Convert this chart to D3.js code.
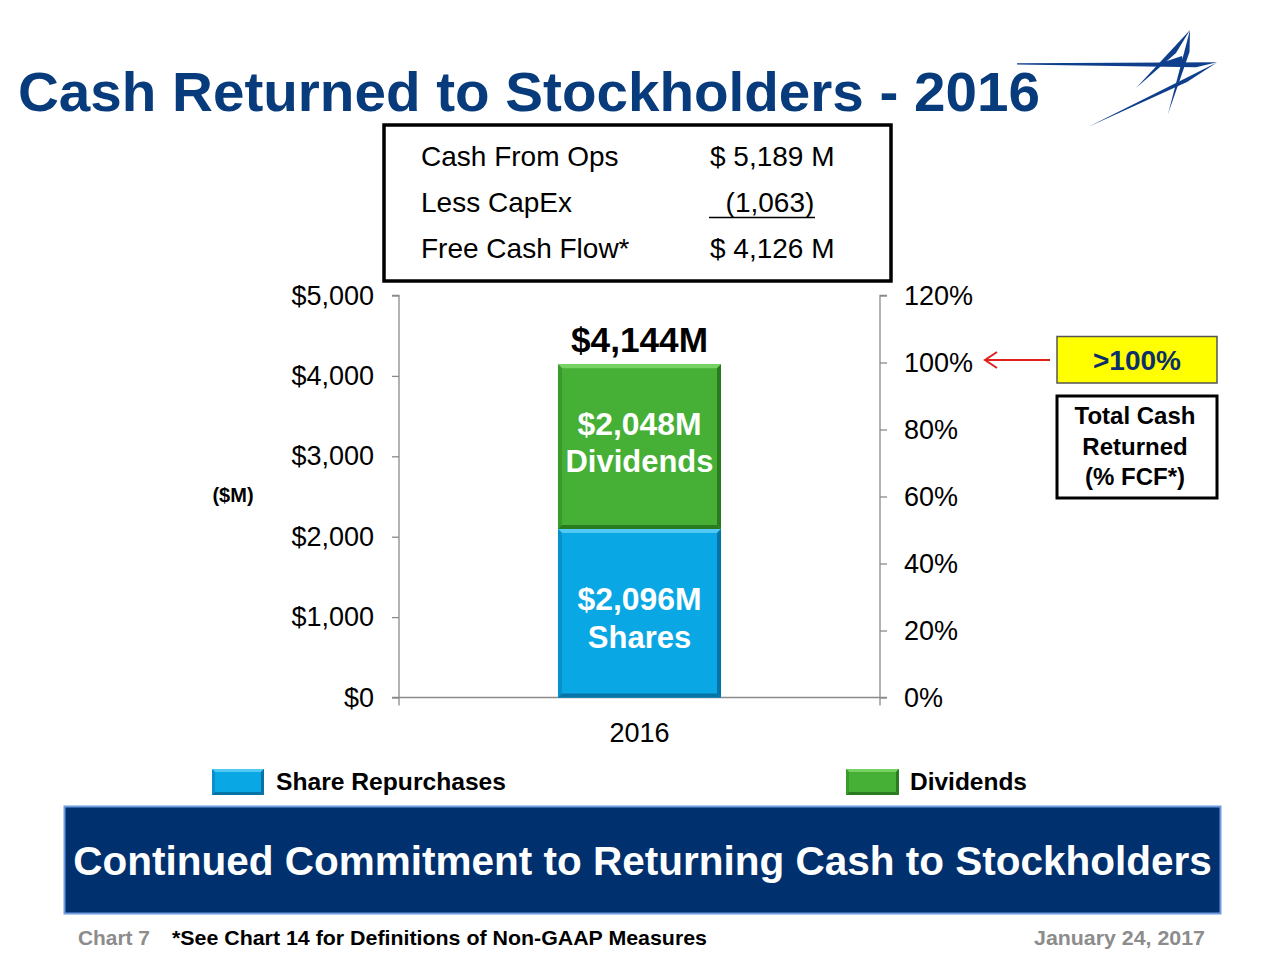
<!DOCTYPE html>
<html>
<head>
<meta charset="utf-8">
<script src="https://cdn.jsdelivr.net/npm/d3@7/dist/d3.min.js"></script>
<style>
  html, body { margin: 0; padding: 0; background: #fff; }
  svg { display: block; font-family: "Liberation Sans", Arial, Helvetica, sans-serif; }
</style>
</head>
<body>
<svg id="chart" width="1280" height="960"></svg>
<script>
// ---------------- DATA ----------------
const categories = ["2016"];
const shareRepurchases = [2096];
const dividends = [2048];
const seriesNames = ["Share Repurchases", "Dividends"];
const leftTicks = [0, 1000, 2000, 3000, 4000, 5000];
const rightTicks = [0, 20, 40, 60, 80, 100, 120];
const fcfLabels = ["Cash From Ops", "Less CapEx", "Free Cash Flow*"];
const fcfValues = ["$ 5,189 M", "  (1,063)", "$ 4,126 M"];
const totalLabel = "$4,144M";
const segLabels = [["$2,096M", "Shares"], ["$2,048M", "Dividends"]];
const pctCallout = ">100%";
const pctCalloutValue = 100;
const calloutLines = ["Total Cash", "Returned", "(% FCF*)"];

// ---------------- SETUP ----------------
const svg = d3.select("#chart");
const plot = { left: 399, right: 880, top: 295.5, bottom: 697.5 };

const x = d3.scaleBand().domain(categories).range([plot.left, plot.right])
  .paddingInner(0).paddingOuter(0.975);
const y = d3.scaleLinear().domain([0, 5000]).range([plot.bottom, plot.top]);
const yR = d3.scaleLinear().domain([0, 120]).range([plot.bottom, plot.top]);

const colors = {
  shares: { main: "#0aa7e5", light: "#52c9f4", dark: "#0673a6", side: "#0990c8" },
  divs:   { main: "#45b035", light: "#76d262", dark: "#2a7a1f", side: "#3b9a2d" }
};

function txt(g, s, opts) {
  const t = g.append("text").attr("x", opts.x).attr("y", opts.y).text(s)
    .attr("font-size", opts.size)
    .attr("font-weight", opts.bold ? "bold" : "normal")
    .attr("fill", opts.fill || "#000")
    .attr("text-anchor", opts.anchor || "start");
  if (opts.len) t.attr("textLength", opts.len).attr("lengthAdjust", "spacingAndGlyphs");
  return t;
}

function bevelRect(g, x0, y0, x1, y1, c, b) {
  g.append("rect").attr("x", x0).attr("y", y0).attr("width", x1 - x0).attr("height", y1 - y0).attr("fill", c.main);
  const P = pts => pts.map(p => p.join(",")).join(" ");
  g.append("polygon").attr("points", P([[x0,y0],[x1,y0],[x1-b,y0+b],[x0+b,y0+b]])).attr("fill", c.light);
  g.append("polygon").attr("points", P([[x0,y0],[x0+b,y0+b],[x0+b,y1-b],[x0,y1]])).attr("fill", c.side);
  g.append("polygon").attr("points", P([[x1,y0],[x1,y1],[x1-b,y1-b],[x1-b,y0+b]])).attr("fill", c.dark);
  g.append("polygon").attr("points", P([[x0,y1],[x1,y1],[x1-b,y1-b],[x0+b,y1-b]])).attr("fill", c.dark);
}

// ---------------- TITLE ----------------
txt(svg, "Cash Returned to Stockholders - 2016", { x: 18, y: 111, size: 56, bold: true, fill: "#073b7b", len: 1022 });

// Logo (stylized star)
const logo = svg.append("g").attr("fill", "#0f3f8c");
const poly = pts => logo.append("polygon").attr("points", pts.map(p => p.join(",")).join(" "));
poly([[1017,63.2],[1217,62.2],[1196,67.2],[1017,64.6]]);
poly([[1217,62.5],[1187,82],[1088,127]]);
poly([[1190,30],[1168,114],[1189.5,52]]);
poly([[1190,30],[1136,88],[1176,53]]);
poly([[1158,64],[1182,56],[1184,64.5]]);

// ---------------- FCF BOX ----------------
const box = svg.append("g");
box.append("rect").attr("x", 384).attr("y", 125).attr("width", 507).attr("height", 156)
  .attr("fill", "#fff").attr("stroke", "#000").attr("stroke-width", 3.5);
const rowY = [166, 212, 258];
fcfLabels.forEach((l, i) => txt(box, l, { x: 421, y: rowY[i], size: 28 }));
fcfValues.forEach((v, i) => {
  txt(box, v, { x: 710, y: rowY[i], size: 28 }).attr("xml:space", "preserve").style("white-space", "pre");
});
box.append("line").attr("x1", 709).attr("x2", 815).attr("y1", 217.5).attr("y2", 217.5)
  .attr("stroke", "#000").attr("stroke-width", 1.6);

// ---------------- AXES ----------------
const axisColor = "#8a8a8a";
const ax = svg.append("g");
const gl = ax.append("g").attr("transform", `translate(${plot.left},0)`)
  .call(d3.axisLeft(y).tickValues(leftTicks).tickSize(7).tickPadding(18)
    .tickFormat(d => "$" + d3.format(",")(d)));
const gr = ax.append("g").attr("transform", `translate(${plot.right},0)`)
  .call(d3.axisRight(yR).tickValues(rightTicks).tickSize(7).tickPadding(17)
    .tickFormat(d => d + "%"));
const gb = ax.append("g").attr("transform", `translate(0,${plot.bottom})`)
  .call(d3.axisBottom(x).tickSize(0).tickPadding(30));
[gl, gr, gb].forEach(g => {
  g.select(".domain").attr("stroke", axisColor).attr("stroke-width", 1.3);
  g.selectAll(".tick line").attr("stroke", axisColor).attr("stroke-width", 1.3);
  g.selectAll(".tick text").attr("fill", "#000").attr("font-size", 27)
    .attr("font-family", "'Liberation Sans', Arial, sans-serif");
});
gb.select(".domain").attr("d", `M${plot.left - 7},0H${plot.right + 7}`);
gb.selectAll(".tick text").attr("dy", 0).attr("y", 44.5);
[plot.left, plot.right].forEach(xx =>
  ax.append("line").attr("x1", xx).attr("x2", xx).attr("y1", plot.bottom).attr("y2", plot.bottom + 8)
    .attr("stroke", axisColor).attr("stroke-width", 1.3));
gl.select(".domain").attr("d", `M-7,${plot.top}H0V${plot.bottom}`);
gr.select(".domain").attr("d", `M7,${plot.top}H0V${plot.bottom}`);

txt(svg, "($M)", { x: 233, y: 502, size: 20, bold: true, anchor: "middle" });

// ---------------- BARS ----------------
const rows = categories.map((c, i) => ({ cat: c, shares: shareRepurchases[i], divs: dividends[i] }));
const stack = d3.stack().keys(["shares", "divs"])(rows);
const barsG = svg.append("g");
stack.forEach(layer => {
  layer.forEach(d => {
    const x0 = x(d.data.cat), x1 = x0 + x.bandwidth();
    bevelRect(barsG, x0, y(d[1]), x1, y(d[0]), colors[layer.key], 4);
  });
});

rows.forEach(r => {
  const cx = x(r.cat) + x.bandwidth() / 2;
  const total = r.shares + r.divs;
  txt(svg, totalLabel, { x: cx, y: y(total) - 12, size: 35, bold: true, anchor: "middle", len: 137 });
  const sMid = y(r.shares / 2);
  txt(svg, segLabels[0][0], { x: cx, y: sMid - 3, size: 31, bold: true, fill: "#fff", anchor: "middle", len: 124 });
  txt(svg, segLabels[0][1], { x: cx, y: sMid + 35, size: 31, bold: true, fill: "#fff", anchor: "middle" });
  const dMid = y(r.shares + r.divs / 2);
  txt(svg, segLabels[1][0], { x: cx, y: dMid - 12, size: 31, bold: true, fill: "#fff", anchor: "middle", len: 124 });
  txt(svg, segLabels[1][1], { x: cx, y: dMid + 25, size: 31, bold: true, fill: "#fff", anchor: "middle", len: 148 });
});

// ---------------- CALLOUTS ----------------
const co = svg.append("g");
co.append("rect").attr("x", 1057).attr("y", 336.5).attr("width", 160).attr("height", 46.5)
  .attr("fill", "#ffff00").attr("stroke", "#555").attr("stroke-width", 1.5);
txt(co, pctCallout, { x: 1137, y: 370, size: 28, bold: true, fill: "#0c2e6b", anchor: "middle" });
const ay = yR(pctCalloutValue) - 2.5;
co.append("line").attr("x1", 1050).attr("x2", 985).attr("y1", ay).attr("y2", ay)
  .attr("stroke", "#e0201b").attr("stroke-width", 2);
co.append("path").attr("d", `M997,${ay - 8}L985,${ay}L997,${ay + 8}`)
  .attr("fill", "none").attr("stroke", "#e0201b").attr("stroke-width", 2);
co.append("rect").attr("x", 1057).attr("y", 396).attr("width", 160).attr("height", 102)
  .attr("fill", "#fff").attr("stroke", "#000").attr("stroke-width", 3);
[424, 455, 485].forEach((yy, i) =>
  txt(co, calloutLines[i], { x: 1135, y: yy, size: 24, bold: true, anchor: "middle" }));

// ---------------- LEGEND ----------------
const lg = svg.append("g");
bevelRect(lg, 212, 769, 264, 795, colors.shares, 3);
txt(lg, seriesNames[0], { x: 276, y: 790, size: 24, bold: true, len: 230 });
bevelRect(lg, 846, 769, 899, 795, colors.divs, 3);
txt(lg, seriesNames[1], { x: 910, y: 790, size: 24, bold: true, len: 117 });

// ---------------- BANNER ----------------
svg.append("rect").attr("x", 64.5).attr("y", 806.5).attr("width", 1156).attr("height", 107)
  .attr("fill", "#00306d").attr("stroke", "#6f9be0").attr("stroke-width", 2);
txt(svg, "Continued Commitment to Returning Cash to Stockholders",
  { x: 642.5, y: 875, size: 40.5, bold: true, fill: "#fff", anchor: "middle" });

// ---------------- FOOTER ----------------
txt(svg, "Chart 7", { x: 78, y: 945, size: 21, bold: true, fill: "#8c8c8c", len: 72 });
txt(svg, "*See Chart 14 for Definitions of Non-GAAP Measures", { x: 172, y: 945, size: 21, bold: true, len: 535 });
txt(svg, "January 24, 2017", { x: 1205, y: 945, size: 21, bold: true, fill: "#8c8c8c", anchor: "end", len: 171 });
</script>
</body>
</html>
